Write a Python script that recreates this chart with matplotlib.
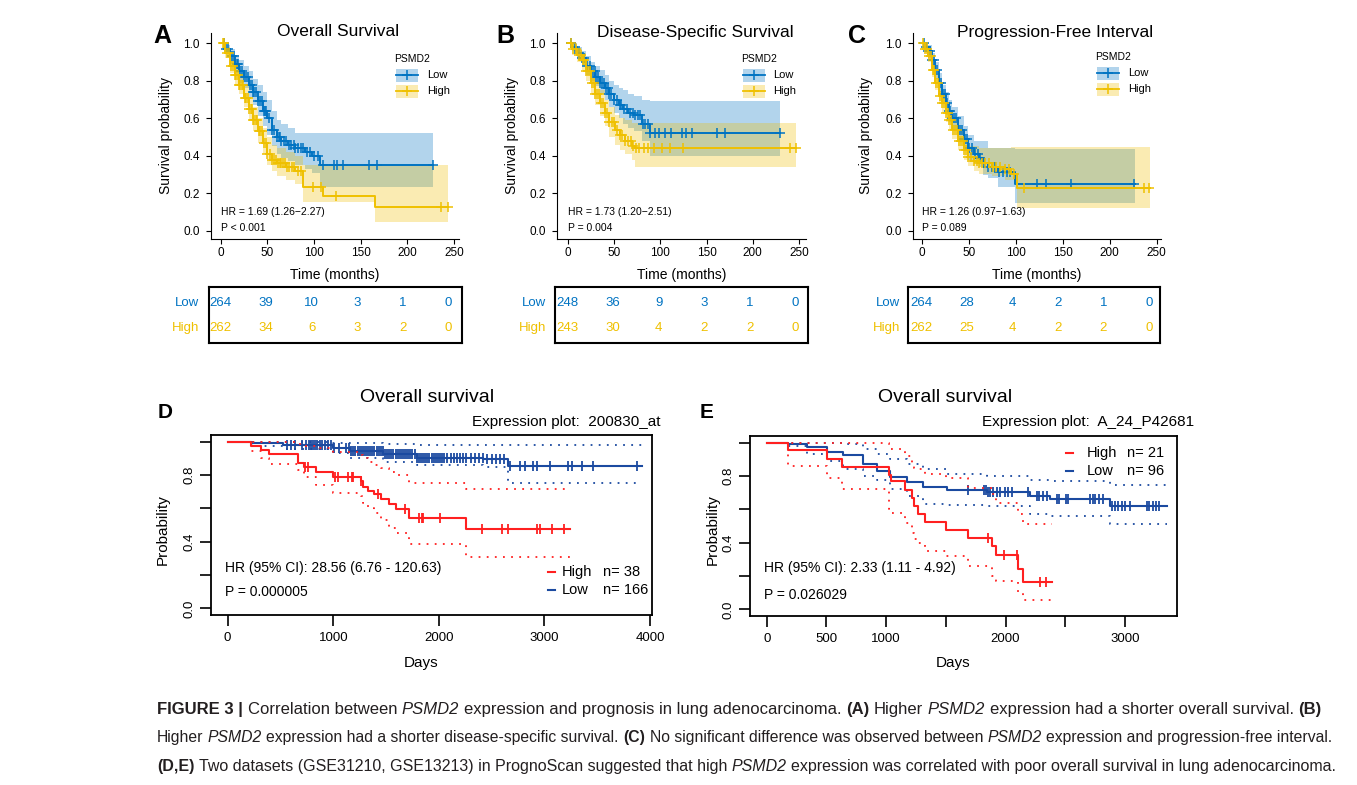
import numpy as np
import matplotlib
matplotlib.use("Agg")
import matplotlib.pyplot as plt
from matplotlib import font_manager
from matplotlib.lines import Line2D
from matplotlib.patches import Rectangle

# ---------------- data ----------------
# A-C: TCGA LUAD, time in months, PSMD2 low / high
a_low_t = [0, 5, 10, 15, 20, 25, 30, 35, 40, 45, 50, 55, 60, 65, 72, 80, 90, 98, 106, 227]
a_low_s = [1.0, .97, .93, .89, .85, .82, .78, .74, .69, .64, .60, .54, .50, .48, .46, .44, .42, .40, .35, .35]
a_low_lo = [1.0, .95, .89, .84, .79, .76, .71, .67, .61, .56, .51, .45, .41, .39, .37, .35, .33, .31, .235, .235]
a_low_hi = [1.0, .99, .97, .94, .91, .88, .85, .81, .78, .74, .70, .64, .59, .57, .55, .52, .52, .52, .52, .52]
a_low_cens = [3, 6, 8, 12, 14, 17, 19, 21, 23, 25, 27, 29, 31, 33, 35, 36, 38, 40, 42, 44, 46, 47, 49,
              52, 55, 57, 60, 62, 63, 65, 68, 70, 73, 75, 78, 80, 83, 86, 88, 92, 96, 100, 104,
              110, 121, 125, 131, 159, 167, 227]
a_high_t = [0, 5, 10, 15, 20, 25, 30, 35, 40, 45, 50, 55, 60, 70, 80, 88, 110, 165, 243]
a_high_s = [1.0, .95, .88, .83, .78, .71, .65, .59, .53, .47, .41, .38, .36, .34, .32, .235, .185, .125, .125]
a_high_lo = [1.0, .92, .84, .78, .73, .66, .59, .53, .47, .41, .35, .32, .29, .27, .25, .155, .155, .048, .048]
a_high_hi = [1.0, .98, .92, .88, .83, .77, .71, .66, .60, .55, .50, .46, .44, .42, .40, .35, .35, .35, .35]
a_high_cens = [2, 4, 7, 9, 11, 13, 15, 16, 18, 20, 21, 23, 24, 26, 27, 29, 30, 32, 33, 35, 36, 38, 39,
               41, 42, 44, 46, 48, 50, 53, 55, 57, 59, 61, 63, 65, 67, 69, 71, 73, 76, 79, 83, 86,
               99, 107, 123, 236, 243]

b_low_t = [0, 5, 10, 15, 20, 25, 30, 35, 40, 45, 50, 55, 60, 65, 72, 80, 89, 229]
b_low_s = [1.0, .98, .95, .92, .88, .85, .82, .79, .76, .73, .70, .67, .65, .63, .62, .57, .52, .52]
b_low_lo = [1.0, .96, .92, .88, .83, .80, .77, .73, .70, .66, .63, .60, .57, .55, .53, .48, .40, .40]
b_low_hi = [1.0, 1.0, .98, .96, .93, .90, .88, .86, .83, .80, .78, .76, .75, .73, .72, .70, .69, .69]
b_low_cens = [4, 8, 12, 15, 18, 21, 24, 27, 29, 31, 33, 35, 37, 39, 41, 43, 45, 47, 50, 53, 56, 58,
              61, 64, 67, 70, 73, 76, 78, 81, 84, 87, 89, 94, 99, 105, 112, 123, 128, 134, 161,
              170, 229]
b_high_t = [0, 5, 10, 15, 20, 25, 30, 35, 40, 45, 51, 56, 62, 69, 73, 247]
b_high_s = [1.0, .97, .94, .91, .85, .79, .73, .68, .63, .58, .54, .51, .48, .45, .443, .443]
b_high_lo = [1.0, .94, .90, .86, .80, .73, .67, .61, .56, .50, .46, .43, .41, .38, .34, .34]
b_high_hi = [1.0, 1.0, .97, .95, .90, .85, .80, .75, .70, .66, .62, .60, .59, .577, .577, .577]
b_high_cens = [3, 6, 9, 12, 14, 16, 18, 20, 22, 24, 26, 28, 30, 32, 34, 36, 38, 40, 42, 45, 48, 50,
               53, 56, 59, 62, 65, 68, 71, 74, 77, 82, 87, 93, 102, 111, 125, 240, 247]

c_low_t = [0, 3, 6, 10, 14, 18, 21, 25, 28, 32, 38, 44, 49, 55, 60, 65, 70, 81, 99, 227]
c_low_s = [1.0, .98, .96, .91, .86, .79, .73, .68, .64, .60, .54, .49, .44, .41, .386, .36, .34, .315, .25, .25]
c_low_lo = [1.0, .96, .92, .87, .81, .74, .68, .62, .58, .54, .48, .43, .38, .36, .34, .30, .28, .235, .146, .146]
c_low_hi = [1.0, 1.0, .99, .95, .90, .84, .78, .74, .70, .66, .61, .56, .51, .48, .48, .48, .44, .44, .434, .434]
c_low_cens = [2, 4, 6, 8, 10, 12, 14, 16, 18, 20, 22, 24, 26, 28, 30, 32, 34, 36, 38, 40, 42, 44, 46,
              48, 50, 53, 56, 59, 62, 66, 70, 74, 78, 82, 86, 90, 94, 122, 132, 159, 226]
c_high_t = [0, 3, 6, 10, 14, 18, 21, 25, 28, 32, 38, 44, 49, 55, 60, 74, 88, 95, 101, 243]
c_high_s = [1.0, .97, .93, .86, .79, .72, .68, .63, .59, .54, .48, .43, .395, .37, .36, .34, .33, .305, .23, .23]
c_high_lo = [1.0, .95, .90, .82, .75, .68, .63, .58, .54, .49, .43, .38, .345, .32, .305, .29, .27, .27, .12, .12]
c_high_hi = [1.0, 1.0, .97, .91, .84, .77, .73, .68, .64, .59, .53, .48, .45, .45, .44, .44, .44, .445, .445, .445]
c_high_cens = [1, 3, 5, 7, 9, 11, 13, 15, 17, 19, 21, 23, 25, 27, 29, 31, 33, 35, 37, 39, 41, 43, 45,
               47, 49, 52, 55, 58, 61, 64, 67, 71, 75, 79, 83, 88, 93, 98, 108, 236, 242]

risk_t = [0, 50, 100, 150, 200, 250]
a_risk_low = [264, 39, 10, 3, 1, 0]
a_risk_high = [262, 34, 6, 3, 2, 0]
b_risk_low = [248, 36, 9, 3, 1, 0]
b_risk_high = [243, 30, 4, 2, 2, 0]
c_risk_low = [264, 28, 4, 2, 1, 0]
c_risk_high = [262, 25, 4, 2, 2, 0]

# D: GSE31210 (200830_at), days
d_high_t = [0, 221, 315, 394, 663, 726, 836, 994, 1262, 1280, 1330, 1389, 1452, 1531, 1594, 1720, 2260, 3240]
d_high_s = [1.0, .974, .948, .924, .874, .848, .82, .79, .764, .728, .704, .684, .654, .624, .594, .544, .474, .474]
d_high_lo = [1.0, .944, .90, .864, .83, .79, .74, .69, .674, .63, .60, .57, .53, .48, .45, .384, .31, .31]
d_high_hi = [1.0, 1.0, 1.0, 1.0, .985, .975, .96, .94, .92, .90, .88, .86, .84, .82, .80, .75, .718, .718]
d_high_cens = [732, 760, 1016, 1048, 1143, 1174, 1190, 1263, 1427, 1679, 1815, 1837, 1853, 2011,
               2405, 2595, 2658, 2926, 2958, 3068, 3188]
d_low_t = [0, 230, 527, 1000, 1158, 1474, 1790, 2421, 2658, 3920]
d_low_s = [1.0, .99, .98, .964, .944, .924, .904, .894, .854, .854]
d_low_lo = [1.0, .975, .955, .93, .905, .88, .86, .85, .755, .755]
d_low_hi = [1.0, 1.0, 1.0, .995, .99, .985, .98, .978, .978, .978]
d_low_cens = [560, 600, 640, 700, 740, 770, 790, 810, 830, 850, 870, 890, 920, 950, 980, 1010, 1050,
              1120, 1150, 1170, 1190, 1210, 1230, 1250, 1270, 1290, 1310, 1330, 1350, 1370, 1390,
              1410, 1430, 1450, 1470, 1490, 1510, 1530, 1550, 1570, 1590, 1610, 1630, 1650, 1670,
              1690, 1710, 1730, 1750, 1770, 1790, 1810, 1830, 1850, 1870, 1890, 1910, 1930, 1950,
              1970, 1990, 2010, 2030, 2050, 2080, 2110, 2140, 2170, 2200, 2230, 2260, 2300, 2340,
              2380, 2420, 2460, 2500, 2540, 2580, 2620, 2674, 2768, 2816, 2894, 2926, 3052, 3226,
              3257, 3352, 3463, 3873]

# E: GSE13213 (A_24_P42681), days
e_high_t = [0, 176, 502, 628, 1027, 1044, 1159, 1214, 1234, 1270, 1326, 1499, 1683, 1884, 1921, 2108, 2144, 2387]
e_high_s = [1.0, .954, .904, .854, .804, .768, .714, .67, .618, .57, .522, .478, .43, .378, .324, .242, .164, .164]
e_high_lo = [1.0, .86, .79, .72, .60, .58, .52, .46, .42, .40, .35, .32, .26, .20, .17, .10, .055, .055]
e_high_hi = [1.0, 1.0, 1.0, 1.0, .97, .96, .92, .88, .85, .84, .81, .79, .73, .69, .64, .57, .514, .514]
e_high_cens = [1851, 1990, 2099, 2289, 2337]
e_low_t = [0, 181, 335, 502, 642, 810, 921, 1033, 1172, 1312, 1508, 1843, 2205, 2373, 2875, 3350]
e_low_s = [1.0, .995, .974, .944, .924, .874, .83, .794, .764, .734, .718, .704, .678, .662, .622, .622]
e_low_lo = [1.0, .98, .934, .89, .844, .80, .774, .724, .68, .634, .624, .62, .574, .56, .514, .514]
e_low_hi = [1.0, 1.0, 1.0, 1.0, .99, .96, .93, .90, .87, .84, .81, .80, .774, .77, .748, .748]
e_low_cens = [1689, 1823, 1837, 1851, 1870, 1898, 1926, 1954, 1996, 2024, 2052, 2191, 2261, 2284,
              2312, 2345, 2429, 2451, 2507, 2521, 2708, 2730, 2750, 2786, 2814, 2889, 2917, 2945,
              2973, 3001, 3043, 3183, 3205, 3233, 3261, 3289]

# ---------------- setup ----------------
W, H = 1357, 785
plt.rcParams['font.family'] = ['Liberation Sans', 'DejaVu Sans']
names = {f.name for f in font_manager.fontManager.ttflist}
cap_font = 'Liberation Sans Narrow' if 'Liberation Sans Narrow' in names else 'Liberation Sans'

BLUE, GOLD = '#0073C2', '#EFC000'
RRED, RBLUE = '#FF2020', '#1B4AA0'

fig = plt.figure(figsize=(W / 100, H / 100), dpi=100)


def px_axes(l, t, r, b):
    return fig.add_axes([l / W, 1 - b / H, (r - l) / W, (b - t) / H])


def ftext(x, y, s, **kw):
    return fig.text(x / W, 1 - y / H, s, **kw)


def step_at(t, s, tc):
    idx = np.searchsorted(np.asarray(t), np.asarray(tc), side='right') - 1
    return np.asarray(s)[idx]


def km_gg(ax, t, s, cens, color):
    ax.step(t, s, where='post', color=color, lw=1.4, zorder=3)
    ax.plot(cens, step_at(t, s, cens), ls='none', marker='+', ms=6.5, mew=1.1, color=color, zorder=3)


def gg_panel(box, xlim, letter, lpos, title, tpos, curves, hr, ptxt, leg):
    ax = px_axes(*box)
    for t, s, lo, hi, cens, col in curves:
        ax.fill_between(t, lo, hi, step='post', color=col, alpha=0.3, lw=0, zorder=1)
    for t, s, lo, hi, cens, col in curves:
        km_gg(ax, t, s, cens, col)
    ax.set_xlim(*xlim)
    ax.set_ylim(-0.044, 1.055)
    ax.set_xticks([0, 50, 100, 150, 200, 250])
    ax.set_yticks([0, .2, .4, .6, .8, 1.0])
    ax.set_yticklabels(['0.0', '0.2', '0.4', '0.6', '0.8', '1.0'])
    for sp in ['top', 'right']:
        ax.spines[sp].set_visible(False)
    ax.tick_params(direction='out', length=3.5, width=0.8, labelsize=8.5, pad=2.5)
    ax.tick_params(axis='y', pad=4.5)
    ax.patch.set_alpha(0)
    ftext(lpos[0], lpos[1], letter, fontsize=18, fontweight='bold', ha='center', va='center')
    ftext(tpos[0], tpos[1], title, fontsize=12.5, ha='center', va='center')
    ftext((box[0] + box[2]) / 2, 275, 'Time (months)', fontsize=10, ha='center', va='center')
    ftext(leg[3], 136, 'Survival probability', fontsize=10, rotation=90, ha='center', va='center')
    ax.text(0, 0.10, hr, fontsize=7.5, ha='left', va='center')
    ax.text(0, 0.017, ptxt, fontsize=7.5, ha='left', va='center')
    # legend
    lx, ly, tx = leg[0], leg[1], leg[2]
    ftext(lx - 2, ly, 'PSMD2', fontsize=7.5, ha='left', va='center')
    for i, (lab, col) in enumerate([('Low', BLUE), ('High', GOLD)]):
        yc = ly + 16 + i * 16
        fig.add_artist(Rectangle((lx / W, 1 - (yc + 6.5) / H), 22 / W, 13 / H,
                                 transform=fig.transFigure, color=col, alpha=0.3, lw=0))
        fig.add_artist(Line2D([lx / W, (lx + 22) / W], [1 - yc / H] * 2, color=col, lw=1.3,
                              transform=fig.transFigure))
        fig.add_artist(Line2D([(lx + 11) / W], [1 - yc / H], color=col, marker='+', ms=6.5, mew=1.1,
                              transform=fig.transFigure))
        ftext(tx, yc, lab, fontsize=8, ha='left', va='center')
    return ax


def risk_table(box, xlim, low, high, lab_x):
    ax = px_axes(*box)
    ax.set_xlim(*xlim)
    ax.set_ylim(0, 2)
    ax.set_xticks([])
    ax.set_yticks([])
    for sp in ax.spines.values():
        sp.set_linewidth(1.5)
    for x, n in zip(risk_t, low):
        ax.text(x, 1.43, str(n), color=BLUE, fontsize=9.5, ha='center', va='center')
    for x, n in zip(risk_t, high):
        ax.text(x, 0.54, str(n), color=GOLD, fontsize=9.5, ha='center', va='center')
    ftext(lab_x, 303, 'Low', color=BLUE, fontsize=9.5, ha='right', va='center')
    ftext(lab_x, 328, 'High', color=GOLD, fontsize=9.5, ha='right', va='center')


gg_panel((211, 33, 459, 239), (-10.4, 255.3), 'A', (162, 36), 'Overall Survival', (338, 32),
         [(a_low_t, a_low_s, a_low_lo, a_low_hi, a_low_cens, BLUE),
          (a_high_t, a_high_s, a_high_lo, a_high_hi, a_high_cens, GOLD)],
         'HR = 1.69 (1.26\u22122.27)', 'P < 0.001', (396, 59, 427, 166))
gg_panel((557, 33, 806, 239), (-11.6, 257.5), 'B', (505, 36), 'Disease-Specific Survival', (695, 32),
         [(b_low_t, b_low_s, b_low_lo, b_low_hi, b_low_cens, BLUE),
          (b_high_t, b_high_s, b_high_lo, b_high_hi, b_high_cens, GOLD)],
         'HR = 1.73 (1.20\u22122.51)', 'P = 0.004', (743, 59, 773, 512))
gg_panel((913, 33, 1161, 239), (-9.9, 254.6), 'C', (857, 36), 'Progression-Free Interval', (1055, 32),
         [(c_low_t, c_low_s, c_low_lo, c_low_hi, c_low_cens, BLUE),
          (c_high_t, c_high_s, c_high_lo, c_high_hi, c_high_cens, GOLD)],
         'HR = 1.26 (0.97\u22121.63)', 'P = 0.089', (1097, 57, 1128, 866))

risk_table((209, 287, 462, 343), (-12.8, 264.6), a_risk_low, a_risk_high, 199)
risk_table((555, 287, 808, 343), (-13.7, 263.7), b_risk_low, b_risk_high, 546)
risk_table((908, 287, 1160, 343), (-14.3, 262.0), c_risk_low, c_risk_high, 900)


def km_r(ax, t, s, lo, hi, cens, color):
    ax.step(t, lo, where='post', color=color, lw=1.3, ls=(0, (1, 3.5)))
    ax.step(t, hi, where='post', color=color, lw=1.3, ls=(0, (1, 3.5)))
    ax.step(t, s, where='post', color=color, lw=1.5)
    ax.plot(cens, step_at(t, s, cens), ls='none', marker='|', ms=7.5, mew=1.3, color=color)


def r_panel(box, xlim, xticks, xlabels, letter, lpos, title_x, probe, probe_x, curves,
            hr, hr_x, p_y, leg):
    ax = px_axes(*box)
    for c in curves:
        km_r(ax, *c)
    ax.set_xlim(*xlim)
    ax.set_ylim(-0.04, 1.04)
    ax.set_xticks(xticks)
    ax.set_xticklabels(xlabels)
    ax.set_yticks([0, .2, .4, .6, .8, 1.0])
    ax.set_yticklabels(['0.0', '', '0.4', '', '0.8', ''], rotation=90, va='center')
    for sp in ax.spines.values():
        sp.set_linewidth(1.3)
    ax.tick_params(direction='out', length=8, width=1.2, labelsize=9.5, pad=4)
    ax.tick_params(axis='y', pad=3)
    ftext(lpos[0], lpos[1], letter, fontsize=15, fontweight='bold', ha='center', va='center')
    ftext(title_x, 398, 'Overall survival', fontsize=14, ha='center', va='center')
    ftext(probe_x, 422, 'Expression plot:  ' + probe, fontsize=11, ha='right', va='center')
    ftext((box[0] + box[2]) / 2 - 10, 663, 'Days', fontsize=11, ha='center', va='center')
    ftext(leg[5], 530, 'Probability', fontsize=11, rotation=90, ha='center', va='center')
    ftext(hr_x, 568, hr[0], fontsize=10, ha='left', va='center')
    ftext(hr_x, p_y, hr[1], fontsize=10, ha='left', va='center')
    # legend
    dash_x, tx, nx, y1, y2 = leg[:5]
    for (lab, n, col, y) in [('High', leg[6], RRED, y1), ('Low', leg[7], RBLUE, y2)]:
        fig.add_artist(Line2D([dash_x / W, (dash_x + 7) / W], [1 - y / H] * 2, color=col, lw=1.5,
                              transform=fig.transFigure))
        ftext(tx, y, lab, fontsize=10.5, ha='left', va='center')
        ftext(nx, y, 'n= ' + n, fontsize=10.5, ha='left', va='center')
    return ax


r_panel((211, 435, 652, 615), (-158, 4018), [0, 1000, 2000, 3000, 4000],
        ['0', '1000', '2000', '3000', '4000'], 'D', (165, 412), 427, '200830_at', 661,
        [(d_low_t, d_low_s, d_low_lo, d_low_hi, d_low_cens, RBLUE),
         (d_high_t, d_high_s, d_high_lo, d_high_hi, d_high_cens, RRED)],
        ('HR (95% CI): 28.56 (6.76 - 120.63)', 'P = 0.000005'), 225, 592,
        (548, 562, 603, 572, 590, 163, '38', '166'))
r_panel((750, 436, 1177, 616), (-140, 3436), [0, 500, 1000, 1500, 2000, 2500, 3000],
        ['0', '500', '1000', '', '2000', '', '3000'], 'E', (707, 412), 945, 'A_24_P42681', 1194,
        [(e_low_t, e_low_s, e_low_lo, e_low_hi, e_low_cens, RBLUE),
         (e_high_t, e_high_s, e_high_lo, e_high_hi, e_high_cens, RRED)],
        ('HR (95% CI): 2.33 (1.11 - 4.92)', 'P = 0.026029'), 764, 595,
        (1066, 1087, 1127, 453, 471, 713, '21', '96'))

# ---------------- caption ----------------
renderer = fig.canvas.get_renderer()


def space_w(fs):
    a = fig.text(0, 0, 'a a', fontsize=fs, family=cap_font)
    b = fig.text(0, 0, 'aa', fontsize=fs, family=cap_font)
    w = a.get_window_extent(renderer).width - b.get_window_extent(renderer).width
    a.remove()
    b.remove()
    return w


def caption_line(y, pieces, target_w, fs0=11.0):
    # y is the baseline, in pixels from the top
    def draw(fs):
        x = 157
        objs = []
        sw = space_w(fs)
        for txt, style, sp in pieces:
            kw = dict(fontsize=fs, family=cap_font, va='baseline', ha='left', color='#231f20')
            if style == 'b':
                kw['fontweight'] = 'bold'
            if style == 'i':
                kw['fontstyle'] = 'italic'
            o = ftext(x, y, txt, **kw)
            objs.append(o)
            x += o.get_window_extent(renderer).width
            if sp:
                x += sw
        return objs, x - 157
    fs = fs0
    for _ in range(4):
        objs, w = draw(fs)
        for o in objs:
            o.remove()
        fs = fs * target_w / w
    draw(fs)


caption_line(714, [('FIGURE 3 |', 'b', True), ('Correlation between', 'n', True), ('PSMD2', 'i', True),
                   ('expression and prognosis in lung adenocarcinoma.', 'n', True), ('(A)', 'b', True),
                   ('Higher', 'n', True), ('PSMD2', 'i', True),
                   ('expression had a shorter overall survival.', 'n', True), ('(B)', 'b', False)], 1168)
caption_line(742, [('Higher', 'n', True), ('PSMD2', 'i', True),
                   ('expression had a shorter disease-specific survival.', 'n', True), ('(C)', 'b', True),
                   ('No significant difference was observed between', 'n', True), ('PSMD2', 'i', True),
                   ('expression and progression-free interval.', 'n', False)], 1172)
caption_line(771, [('(D,E)', 'b', True),
                   ('Two datasets (GSE31210, GSE13213) in PrognoScan suggested that high', 'n', True),
                   ('PSMD2', 'i', True),
                   ('expression was correlated with poor overall survival in lung adenocarcinoma.', 'n', False)],
             1178)

fig.savefig('out.png', dpi=100)
